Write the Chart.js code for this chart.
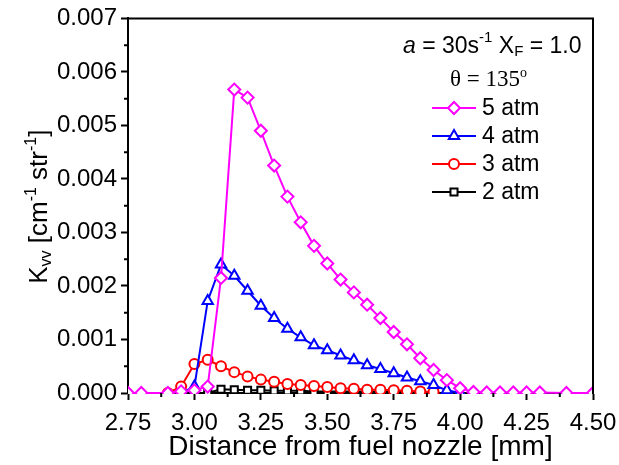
<!DOCTYPE html>
<html>
<head>
<meta charset="utf-8">
<script src="https://cdn.jsdelivr.net/npm/chart.js@4"></script>
<style>
  html, body { margin: 0; padding: 0; background: #fff; }
</style>
</head>
<body>
<canvas id="myChart" width="619" height="465"></canvas>
<script>
// distance from fuel nozzle [mm] and K_vv [cm^-1 str^-1] for each pressure
var dist5 = [2.75, 2.80, 2.90, 2.95, 3.00, 3.05, 3.10, 3.15, 3.20, 3.25, 3.30, 3.35, 3.40, 3.45, 3.50, 3.55, 3.60, 3.65, 3.70, 3.75, 3.80, 3.85, 3.90, 3.95, 4.00, 4.05, 4.10, 4.15, 4.20, 4.25, 4.30, 4.40, 4.50];
var kvv5 = [0, 0, 0, 0.00003, 0.00005, 0.00012, 0.00215, 0.00567, 0.00552, 0.00490, 0.00425, 0.00367, 0.00319, 0.00275, 0.00242, 0.00212, 0.00188, 0.00165, 0.00140, 0.00114, 0.00091, 0.00065, 0.00043, 0.00024, 0.00009, 0.00002, 0.00001, 0.00001, 0.00001, 0.00001, 0.00001, 0, 0];

var dist4 = [2.95, 3.00, 3.05, 3.10, 3.15, 3.20, 3.25, 3.30, 3.35, 3.40, 3.45, 3.50, 3.55, 3.60, 3.65, 3.70, 3.75, 3.80, 3.85, 3.90, 3.95, 4.00];
var kvv4 = [0, 0.00012, 0.00172, 0.00240, 0.00219, 0.00191, 0.00163, 0.00140, 0.00120, 0.00104, 0.00089, 0.00080, 0.00070, 0.00061, 0.00052, 0.00045, 0.00037, 0.00029, 0.00022, 0.00015, 0.00005, 0];

var dist3 = [2.90, 2.95, 3.00, 3.05, 3.10, 3.15, 3.20, 3.25, 3.30, 3.35, 3.40, 3.45, 3.50, 3.55, 3.60, 3.65, 3.70, 3.75, 3.80, 3.85, 3.90];
var kvv3 = [0, 0.00012, 0.00054, 0.00062, 0.00050, 0.00039, 0.00031, 0.00025, 0.00021, 0.00017, 0.00015, 0.00013, 0.00011, 0.00009, 0.00008, 0.00006, 0.00006, 0.00005, 0.00004, 0.00003, 0.00002];

var dist2 = [3.00, 3.05, 3.10, 3.15, 3.20, 3.25, 3.30, 3.35, 3.40, 3.45, 3.50, 3.55, 3.60, 3.65, 3.70, 3.75, 3.80, 3.85, 3.90];
var kvv2 = [0, 0, 0.00007, 0.00006, 0.00005, 0.00005, 0.00004, 0.00004, 0.00004, 0.00003, 0.00003, 0.00003, 0.00003, 0.00003, 0.00002, 0.00002, 0.00002, 0.00002, 0.00002];

var xTickValues = [2.75, 3.00, 3.25, 3.50, 3.75, 4.00, 4.25, 4.50];
var yTickValues = [0, 0.001, 0.002, 0.003, 0.004, 0.005, 0.006, 0.007];

function pts(xs, ys) {
    return xs.map(function (x, i) { return { x: x, y: ys[i] }; });
}

function series(label, xs, ys, color, style, radius) {
    return {
        label: label,
        data: pts(xs, ys),
        borderColor: color,
        backgroundColor: color,
        borderWidth: 2,
        pointStyle: style,
        pointRadius: radius,
        pointBorderWidth: 2,
        pointBorderColor: color,
        pointBackgroundColor: '#fff',
        tension: 0,
        clip: { left: 0, top: 0, right: 0, bottom: 1 }
    };
}

var datasets = [
    series('5 atm', dist5, kvv5, '#ff00ff', 'rectRot', 6),
    series('4 atm', dist4, kvv4, '#0000ff', 'triangle', 6),
    series('3 atm', dist3, kvv3, '#ff0000', 'circle', 5),
    series('2 atm', dist2, kvv2, '#000000', 'rect', 5)
];

// draws a run of text pieces (sub/superscripts) starting at x, returns width
function richWidth(ctx, parts) {
    var w = 0;
    parts.forEach(function (p) {
        ctx.font = p.font;
        w += ctx.measureText(p.t).width;
    });
    return w;
}
function drawRich(ctx, parts, x, y) {
    parts.forEach(function (p) {
        ctx.font = p.font;
        ctx.fillText(p.t, x, y + (p.dy || 0));
        x += ctx.measureText(p.t).width;
    });
}

var sans = '"Liberation Sans", Arial, sans-serif';
var serif = '"Liberation Serif", "Times New Roman", serif';

var decor = {
    id: 'decor',
    afterDraw: function (chart) {
        var ctx = chart.ctx, a = chart.chartArea;
        var xs = chart.scales.x, ys = chart.scales.y;
        ctx.save();
        ctx.strokeStyle = '#000';
        ctx.lineWidth = 2;
        // top and right frame
        ctx.beginPath();
        ctx.moveTo(a.left - 1, a.top);
        ctx.lineTo(a.right, a.top);
        ctx.lineTo(a.right, a.bottom + 1);
        ctx.stroke();

        // minor ticks
        ctx.beginPath();
        for (var i = 0; i < xTickValues.length - 1; i++) {
            var px = xs.getPixelForValue((xTickValues[i] + xTickValues[i + 1]) / 2);
            ctx.moveTo(px, a.bottom);
            ctx.lineTo(px, a.bottom + 4);
        }
        for (var j = 0; j < yTickValues.length - 1; j++) {
            var py = ys.getPixelForValue((yTickValues[j] + yTickValues[j + 1]) / 2);
            ctx.moveTo(a.left, py);
            ctx.lineTo(a.left - 4, py);
        }
        ctx.stroke();

        ctx.fillStyle = '#000';
        ctx.textBaseline = 'alphabetic';
        ctx.textAlign = 'left';

        // y axis title, rotated
        var big = '26px ' + sans, small = '16px ' + sans;
        var yTitle = [
            { t: 'K', font: big },
            { t: 'vv', font: small, dy: 4 },
            { t: ' [cm', font: big },
            { t: '-1', font: small, dy: -11 },
            { t: ' str', font: big },
            { t: '-1', font: small, dy: -11 },
            { t: ']', font: big }
        ];
        var tw = richWidth(ctx, yTitle);
        ctx.save();
        ctx.translate(47, (a.top + a.bottom) / 2 + 1);
        ctx.rotate(-Math.PI / 2);
        drawRich(ctx, yTitle, -tw / 2, 0);
        ctx.restore();

        // condition text
        var mid = '23px ' + sans, tiny = '15px ' + sans;
        drawRich(ctx, [
            { t: 'a', font: 'italic ' + mid },
            { t: ' = 30s', font: mid },
            { t: '-1', font: tiny, dy: -11 },
            { t: ' X', font: mid },
            { t: 'F', font: tiny, dy: 3 },
            { t: ' = 1.0', font: mid }
        ], 403, 53);
        drawRich(ctx, [
            { t: '\u03b8 = 135', font: '23px ' + serif },
            { t: 'o', font: '14px ' + serif, dy: -9 }
        ], 450, 86);

        // legend
        var rowY = [108, 136, 164, 192];
        datasets.forEach(function (ds, k) {
            var y = rowY[k];
            ctx.strokeStyle = ds.borderColor;
            ctx.lineWidth = 2;
            ctx.beginPath();
            ctx.moveTo(432, y);
            ctx.lineTo(476, y);
            ctx.stroke();
            ctx.fillStyle = '#fff';
            Chart.helpers.drawPoint(ctx, {
                pointStyle: ds.pointStyle,
                radius: ds.pointRadius,
                rotation: 0,
                borderWidth: 2
            }, 454, y);
            ctx.fillStyle = '#000';
            ctx.font = '23px ' + sans;
            ctx.textBaseline = 'middle';
            ctx.fillText(ds.label, 482, y + 1);
            ctx.textBaseline = 'alphabetic';
        });
        ctx.restore();
    }
};

var ctx = document.getElementById('myChart').getContext('2d');
var myChart = new Chart(ctx, {
    type: 'line',
    data: { datasets: datasets },
    options: {
        responsive: false,
        animation: false,
        devicePixelRatio: 1,
        layout: { padding: { top: 15, right: 26, left: 0, bottom: 0 } },
        plugins: {
            legend: { display: false },
            tooltip: { enabled: false }
        },
        scales: {
            x: {
                type: 'linear',
                min: 2.75,
                max: 4.5,
                afterBuildTicks: function (scale) {
                    scale.ticks = xTickValues.map(function (v) { return { value: v }; });
                },
                afterFit: function (scale) {
                    scale.height = 72;
                    scale.paddingLeft = 0;
                    scale.paddingRight = 0;
                },
                ticks: {
                    color: '#000',
                    font: { family: sans, size: 24 },
                    padding: 9,
                    maxRotation: 0,
                    callback: function (v) { return v.toFixed(2); }
                },
                grid: { drawOnChartArea: false, tickLength: 7, tickWidth: 2, tickColor: '#000' },
                border: { color: '#000', width: 2 },
                title: {
                    display: true,
                    text: 'Distance from fuel nozzle [mm]',
                    color: '#000',
                    font: { family: sans, size: 28 },
                    padding: { top: 0, bottom: 1 }
                }
            },
            y: {
                min: 0,
                max: 0.007,
                afterBuildTicks: function (scale) {
                    scale.ticks = yTickValues.map(function (v) { return { value: v }; });
                },
                afterFit: function (scale) { scale.width = 128; },
                ticks: {
                    color: '#000',
                    font: { family: sans, size: 24 },
                    padding: 4,
                    callback: function (v) { return v.toFixed(3); }
                },
                grid: { drawOnChartArea: false, tickLength: 7, tickWidth: 2, tickColor: '#000' },
                border: { color: '#000', width: 2 }
            }
        }
    },
    plugins: [decor]
});
</script>
</body>
</html>
